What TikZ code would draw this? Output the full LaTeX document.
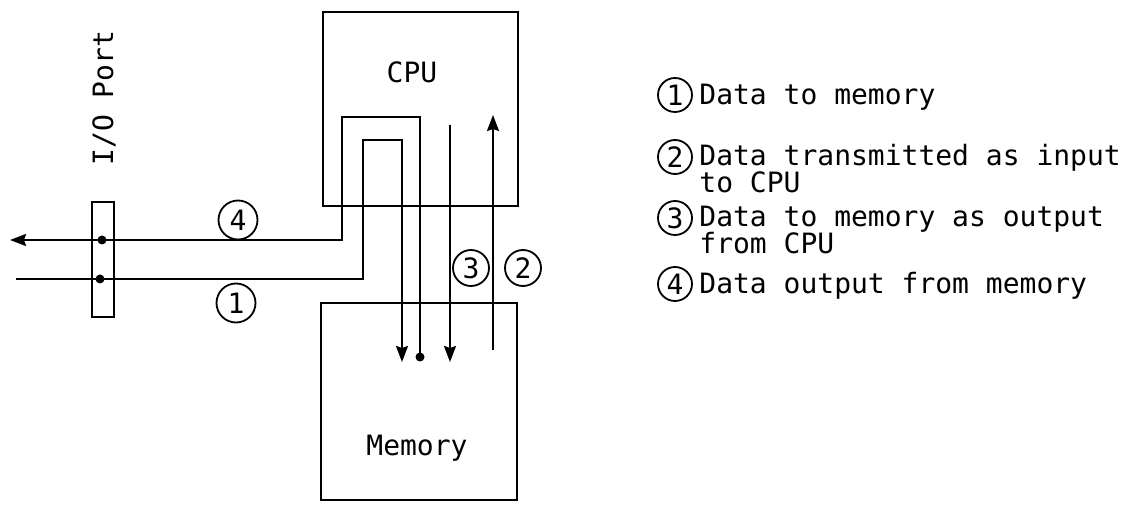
\documentclass[tikz,border=0pt]{standalone}
\usepackage{fontspec}
\usepackage{tikz}
\usetikzlibrary{arrows.meta,positioning}
\newfontfamily\typefont{DejaVu Sans Mono}

\tikzset{
    every node/.style={font=\typefont\fontsize{14}{13.5}\selectfont},
    unitbox/.style={draw, line width=1pt, inner sep=0pt},
    tag/.style={draw, circle, line width=0.9pt, minimum size=18pt, inner sep=0pt},
    wire/.style={line width=1pt},
    flow/.style={wire, -{Stealth[length=8pt,width=6pt,inset=1pt]}},
    pin/.style={fill, circle, inner sep=0pt, minimum size=4.5pt},
    legend/.style={anchor=base west, inner sep=0pt}
}

\begin{document}
\begin{tikzpicture}[x=0.5pt,y=-0.5pt]
        \useasboundingbox (0,0) rectangle (1131,513);

        \node[unitbox, minimum width=97.5pt, minimum height=97pt] (cpu) at (420.5,109) {};
        \node (cpulbl) at (412,72) {CPU};
        \node[unitbox, minimum width=98pt, minimum height=98.5pt] (mem) at (419,401.5) {};
        \node (memlbl) at (417,448) {Memory};
        \node[unitbox, minimum width=11pt, minimum height=57.5pt] (io) at (103,259.5) {};
        \node[rotate=90] (iolbl) at (104,98) {I/O Port};

        \coordinate (o1) at (420,357);
        \coordinate (o2) at (420,117);
        \coordinate (o3) at (342,117);
        \coordinate (o4) at (342,240);
        \coordinate (o5) at (10,240);
        \draw[flow] (o1) -- (o2) -- (o3) -- (o4) -- (o5);
        \node[pin] (od) at (o1) {};
        \node[pin] (oio) at (102,240) {};

        \coordinate (i0) at (16,279);
        \coordinate (i1) at (363,279);
        \coordinate (i2) at (363,140);
        \coordinate (i3) at (402,140);
        \coordinate (i4) at (402,362);
        \draw[flow] (i0) -- (i1) -- (i2) -- (i3) -- (i4);
        \node[pin] (iio) at (100,279) {};

        \coordinate (c0) at (450,125);
        \coordinate (c1) at (450,362);
        \draw[flow] (c0) -- (c1);

        \coordinate (r0) at (493,350);
        \coordinate (r1) at (493,115);
        \draw[flow] (r0) -- (r1);

        \node[tag, minimum size=19.5pt] (n4) at (238,220) {4};
        \node[tag, minimum size=19.5pt] (n1) at (236,303) {1};
        \node[tag] (n3) at (471,268) {3};
        \node[tag] (n2) at (523,268) {2};

        \node[tag, minimum size=17pt] (k1) at (675,95) {1};
        \node[legend] (t1) at (699,105) {Data to memory};
        \node[tag, minimum size=17pt] (k2) at (675,157) {2};
        \node[legend] (t2) at (699,166) {Data transmitted as input};
        \node[legend, below=13.5pt of t2.base west, anchor=base west] (t2b) {to CPU};
        \node[tag, minimum size=17pt] (k3) at (675,218) {3};
        \node[legend] (t3) at (699,227) {Data to memory as output};
        \node[legend, below=13.5pt of t3.base west, anchor=base west] (t3b) {from CPU};
        \node[tag, minimum size=17pt] (k4) at (675,284) {4};
        \node[legend] (t4) at (699,294) {Data output from memory};
\end{tikzpicture}
\end{document}
